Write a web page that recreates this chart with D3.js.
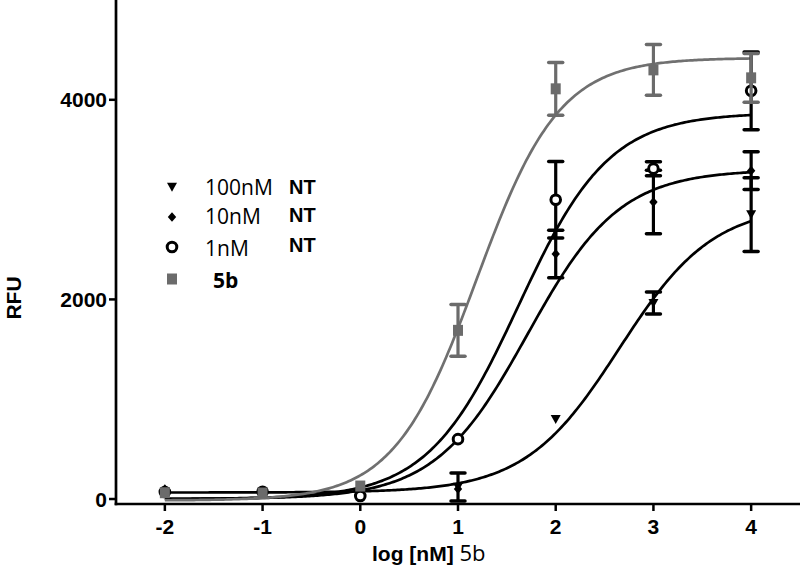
<!DOCTYPE html>
<html><head><meta charset="utf-8">
<script src="https://cdn.jsdelivr.net/npm/d3@7"></script>
<style>body{margin:0;background:#fff}svg{display:block}</style>
</head><body><svg id="c" width="800" height="571"></svg>
<script>
// ---- data ----
const logDose = [-2, -1, 0, 1, 2, 3, 4];
const nt100 = [70, 70, 65, 120, 800, 1963, 2850];
const nt100Err = [0, 0, 0, 140, 0, 110, 370];
const nt10 = [100, 75, 70, 100, 2456, 2975, 3290];
const nt10Err = [0, 0, 0, 0, 238, 318, 190];
const nt1 = [70, 73, 30, 600, 2998, 3310, 4090];
const nt1Err = [0, 0, 0, 0, 383, 70, 390];
const b5 = [63, 60, 130, 1690, 4110, 4300, 4220];
const b5Err = [0, 0, 0, 260, 265, 255, 245];
// fitted 4-parameter logistic curves (100nM, 10nM, 1nM, 5b)
const fitBottom = [65, 0, 0, -15];
const fitTop = [2950, 3300, 3870, 4420];
const fitLogEC50 = [2.65, 1.711, 1.618, 1.191];
const fitHill = [0.9, 0.919, 0.935, 1.025];
const xTicks = [-2, -1, 0, 1, 2, 3, 4];
const yTicks = [0, 2000, 4000];
const legendLabels = ["100nM", "10nM", "1nM", "5b"];

const GRAY = "#6b6b6b";
const series = [
  {v: nt100, e: nt100Err, sym: "tri", color: "#000"},
  {v: nt10, e: nt10Err, sym: "dia", color: "#000"},
  {v: nt1, e: nt1Err, sym: "circ", color: "#000"},
  {v: b5, e: b5Err, sym: "sq", color: GRAY}
];

const svg = d3.select("#c");
const x = d3.scaleLinear().domain([-2.5, 4.5]).range([116, 800]);
const y = d3.scaleLinear().domain([-50, 5000]).range([504, 0]);
const SANS = "Liberation Sans, Arial, sans-serif";
const OPEN = "Open Sans, sans-serif";

function symbolPath(sym) {
  if (sym === "tri") return "M-5,-4.2 L5,-4.2 L0,4.8 Z";
  if (sym === "dia") return "M0,-4.8 L4.2,0 L0,4.8 L-4.2,0 Z";
  if (sym === "sq") return "M-5,-5.5 H5 V5.5 H-5 Z";
  return null;
}
function drawMarker(g, sym, color, cx, cy) {
  if (sym === "circ") {
    g.append("circle").attr("cx", cx).attr("cy", cy).attr("r", 4.8)
      .attr("fill", "#fff").attr("stroke", "#000").attr("stroke-width", 3);
  } else {
    g.append("path").attr("d", symbolPath(sym)).attr("transform", `translate(${cx},${cy})`)
      .attr("fill", color);
  }
}

// curves
const line = d3.line().x(d => x(d[0])).y(d => y(d[1]));
const xs = d3.range(-2, 4.0001, 0.02);
series.forEach((s, i) => {
  const pts = xs.map(t => [t, fitBottom[i] + (fitTop[i] - fitBottom[i]) / (1 + Math.pow(10, (fitLogEC50[i] - t) * fitHill[i]))]);
  svg.append("path").attr("d", line(pts)).attr("fill", "none")
    .attr("stroke", i === 3 ? "#707070" : "#000").attr("stroke-width", 2.7);
});

// error bars + markers
series.forEach(s => {
  const g = svg.append("g");
  s.v.forEach((v, j) => {
    const cx = x(logDose[j]);
    const e = s.e[j];
    if (e > 0) {
      const y1 = y(v + e), y2 = y(v - e);
      g.append("line").attr("x1", cx).attr("x2", cx).attr("y1", y1).attr("y2", y2)
        .attr("stroke", s.color).attr("stroke-width", 3.2);
      [y1, y2].forEach(yy => g.append("line").attr("x1", cx - 7).attr("x2", cx + 7)
        .attr("y1", yy).attr("y2", yy).attr("stroke", s.color).attr("stroke-width", 3.5)
        .attr("stroke-linecap", "round"));
    }
    drawMarker(g, s.sym, s.color, cx, y(v));
  });
});

// axes
const axisG = svg.append("g");
axisG.append("line").attr("x1", 116).attr("x2", 116).attr("y1", y(5000)).attr("y2", y(-50) + 1.3)
  .attr("stroke", "#000").attr("stroke-width", 2.7);
axisG.append("line").attr("x1", 116 - 1.3).attr("x2", 800).attr("y1", y(-50)).attr("y2", y(-50))
  .attr("stroke", "#000").attr("stroke-width", 2.7);
yTicks.forEach(t => {
  axisG.append("line").attr("x1", 109).attr("x2", 116).attr("y1", y(t)).attr("y2", y(t))
    .attr("stroke", "#000").attr("stroke-width", 2.5);
  axisG.append("text").attr("x", 107).attr("y", y(t)).attr("dy", "0.36em")
    .attr("text-anchor", "end").attr("font-family", SANS)
    .attr("font-weight", "bold").attr("font-size", 21).text(t);
});
xTicks.forEach(t => {
  axisG.append("line").attr("x1", x(t)).attr("x2", x(t)).attr("y1", y(-50)).attr("y2", y(-50) + 7)
    .attr("stroke", "#000").attr("stroke-width", 2.5);
  axisG.append("text").attr("x", x(t)).attr("y", 534)
    .attr("text-anchor", "middle").attr("font-family", SANS)
    .attr("font-weight", "bold").attr("font-size", 21).text(t);
});

// axis titles
svg.append("text").attr("transform", "translate(21,298) rotate(-90)")
  .attr("text-anchor", "middle").attr("font-family", SANS)
  .attr("font-weight", "bold").attr("font-size", 21).text("RFU");
const xt = svg.append("text").attr("x", 372).attr("y", 561)
  .attr("font-family", SANS).attr("font-size", 21);
xt.append("tspan").attr("font-weight", "bold").text("log [nM] ");
xt.append("tspan").attr("font-family", OPEN).attr("font-size", 22).text("5b");

// legend
const legY = [187, 217, 247, 279];
const legBase = [195, 224, 256, 288];
const ntBase = [194, 222, 252];
series.forEach((s, i) => {
  drawMarker(svg, s.sym, s.color, 172, legY[i]);
  if (i < 3) {
    svg.append("text").attr("x", 205).attr("y", legBase[i])
      .attr("font-family", OPEN).attr("font-size", 21).text(legendLabels[i]);
    svg.append("text").attr("x", 289).attr("y", ntBase[i])
      .attr("font-family", SANS).attr("font-weight", "bold")
      .attr("font-size", 20).text("NT");
  } else {
    svg.append("text").attr("x", 213).attr("y", legBase[i])
      .attr("font-family", OPEN).attr("font-weight", "bold")
      .attr("font-size", 21).text(legendLabels[i]);
  }
});
</script></body></html>
